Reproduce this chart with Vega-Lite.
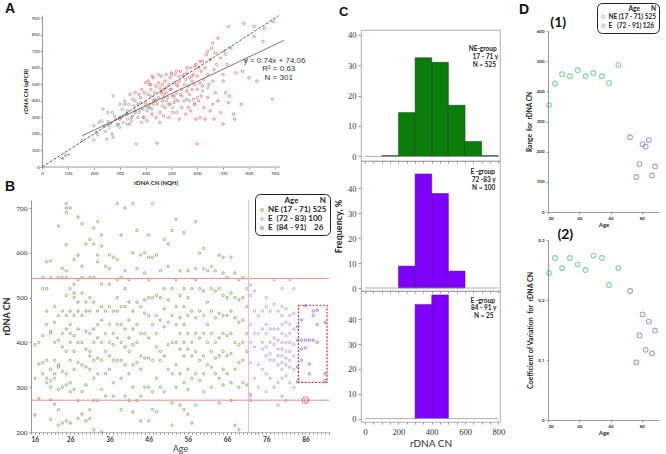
{
  "$schema": "https://vega.github.io/schema/vega-lite/v6.json",
  "padding": {"left": 2, "top": 2, "right": 0, "bottom": 0},
  "spacing": 3,
  "resolve": {"scale": {"color": "independent"}},
  "config": {
    "font": "Lato",
    "view": {"stroke": null},
    "axis": {"grid": false, "labelColor": "#333", "titleColor": "#222", "domainColor": "#999", "tickColor": "#999", "labelOverlap": false, "tickCount": 200, "format": "d"}
  },
  "datasets": {
    "a": [
      {"g":"g","x":75,"y":55},{"g":"g","x":90,"y":75},{"g":"g","x":155,"y":160},{"g":"g","x":200,"y":250},{"g":"g","x":200,"y":165},{"g":"g","x":210,"y":210},{"g":"g","x":215,"y":195},{"g":"g","x":220,"y":270},{"g":"g","x":230,"y":280},{"g":"g","x":235,"y":350},{"g":"g","x":240,"y":250},{"g":"g","x":245,"y":215},{"g":"g","x":250,"y":170},{"g":"g","x":255,"y":275},{"g":"g","x":260,"y":240},{"g":"g","x":265,"y":260},{"g":"g","x":270,"y":200},{"g":"g","x":272,"y":330},{"g":"g","x":275,"y":180},{"g":"g","x":275,"y":430},{"g":"g","x":280,"y":310},{"g":"g","x":285,"y":290},{"g":"g","x":290,"y":255},{"g":"g","x":295,"y":260},{"g":"g","x":300,"y":380},{"g":"g","x":300,"y":240},{"g":"g","x":305,"y":300},{"g":"g","x":310,"y":350},{"g":"g","x":315,"y":270},{"g":"g","x":320,"y":400},{"g":"g","x":325,"y":320},{"g":"g","x":330,"y":290},{"g":"g","x":335,"y":380},{"g":"g","x":340,"y":260},{"g":"g","x":345,"y":280},{"g":"g","x":350,"y":310},{"g":"g","x":355,"y":370},{"g":"g","x":360,"y":340},{"g":"g","x":365,"y":140},{"g":"g","x":370,"y":300},{"g":"g","x":375,"y":330},{"g":"g","x":380,"y":390},{"g":"g","x":385,"y":270},{"g":"g","x":390,"y":350},{"g":"g","x":395,"y":300},{"g":"g","x":400,"y":370},{"g":"g","x":405,"y":340},{"g":"g","x":410,"y":360},{"g":"g","x":415,"y":380},{"g":"g","x":420,"y":430},{"g":"g","x":425,"y":350},{"g":"g","x":430,"y":380},{"g":"g","x":440,"y":400},{"g":"g","x":445,"y":145},{"g":"g","x":450,"y":560},{"g":"g","x":455,"y":480},{"g":"g","x":460,"y":450},{"g":"g","x":465,"y":370},{"g":"g","x":470,"y":420},{"g":"g","x":480,"y":400},{"g":"g","x":490,"y":380},{"g":"g","x":495,"y":470},{"g":"g","x":500,"y":570},{"g":"g","x":505,"y":360},{"g":"g","x":510,"y":430},{"g":"g","x":515,"y":410},{"g":"g","x":520,"y":500},{"g":"g","x":530,"y":550},{"g":"g","x":540,"y":430},{"g":"g","x":550,"y":560},{"g":"g","x":560,"y":410},{"g":"g","x":570,"y":400},{"g":"g","x":580,"y":550},{"g":"g","x":590,"y":380},{"g":"g","x":600,"y":420},{"g":"g","x":620,"y":460},{"g":"g","x":640,"y":480},{"g":"g","x":660,"y":520},{"g":"g","x":700,"y":520},{"g":"g","x":710,"y":680},{"g":"g","x":330,"y":320},{"g":"g","x":360,"y":400},{"g":"g","x":255,"y":330},{"g":"g","x":300,"y":300},
      {"g":"r","x":300,"y":290},{"g":"r","x":320,"y":380},{"g":"r","x":330,"y":340},{"g":"r","x":340,"y":440},{"g":"r","x":350,"y":410},{"g":"r","x":360,"y":330},{"g":"r","x":370,"y":380},{"g":"r","x":380,"y":420},{"g":"r","x":385,"y":470},{"g":"r","x":390,"y":300},{"g":"r","x":395,"y":450},{"g":"r","x":400,"y":510},{"g":"r","x":400,"y":390},{"g":"r","x":405,"y":280},{"g":"r","x":410,"y":520},{"g":"r","x":410,"y":440},{"g":"r","x":415,"y":360},{"g":"r","x":420,"y":470},{"g":"r","x":420,"y":500},{"g":"r","x":425,"y":320},{"g":"r","x":430,"y":400},{"g":"r","x":430,"y":540},{"g":"r","x":435,"y":450},{"g":"r","x":440,"y":490},{"g":"r","x":440,"y":300},{"g":"r","x":445,"y":380},{"g":"r","x":450,"y":510},{"g":"r","x":450,"y":420},{"g":"r","x":455,"y":270},{"g":"r","x":455,"y":330},{"g":"r","x":460,"y":460},{"g":"r","x":460,"y":550},{"g":"r","x":465,"y":500},{"g":"r","x":465,"y":400},{"g":"r","x":470,"y":440},{"g":"r","x":470,"y":310},{"g":"r","x":475,"y":520},{"g":"r","x":475,"y":360},{"g":"r","x":480,"y":480},{"g":"r","x":480,"y":560},{"g":"r","x":485,"y":420},{"g":"r","x":490,"y":500},{"g":"r","x":490,"y":300},{"g":"r","x":495,"y":540},{"g":"r","x":495,"y":380},{"g":"r","x":500,"y":470},{"g":"r","x":500,"y":560},{"g":"r","x":505,"y":430},{"g":"r","x":505,"y":330},{"g":"r","x":510,"y":510},{"g":"r","x":510,"y":390},{"g":"r","x":515,"y":560},{"g":"r","x":520,"y":450},{"g":"r","x":520,"y":330},{"g":"r","x":525,"y":490},{"g":"r","x":525,"y":400},{"g":"r","x":530,"y":520},{"g":"r","x":530,"y":290},{"g":"r","x":535,"y":440},{"g":"r","x":535,"y":580},{"g":"r","x":540,"y":470},{"g":"r","x":540,"y":360},{"g":"r","x":545,"y":550},{"g":"r","x":550,"y":500},{"g":"r","x":550,"y":400},{"g":"r","x":555,"y":530},{"g":"r","x":555,"y":320},{"g":"r","x":560,"y":570},{"g":"r","x":560,"y":460},{"g":"r","x":565,"y":490},{"g":"r","x":565,"y":360},{"g":"r","x":570,"y":540},{"g":"r","x":570,"y":440},{"g":"r","x":575,"y":600},{"g":"r","x":575,"y":340},{"g":"r","x":580,"y":520},{"g":"r","x":580,"y":470},{"g":"r","x":585,"y":560},{"g":"r","x":585,"y":410},{"g":"r","x":590,"y":500},{"g":"r","x":590,"y":380},{"g":"r","x":595,"y":620},{"g":"r","x":595,"y":290},{"g":"r","x":600,"y":140},{"g":"r","x":600,"y":470},{"g":"r","x":600,"y":550},{"g":"r","x":605,"y":600},{"g":"r","x":605,"y":400},{"g":"r","x":610,"y":510},{"g":"r","x":610,"y":300},{"g":"r","x":615,"y":580},{"g":"r","x":615,"y":430},{"g":"r","x":620,"y":640},{"g":"r","x":620,"y":490},{"g":"r","x":625,"y":530},{"g":"r","x":625,"y":360},{"g":"r","x":630,"y":600},{"g":"r","x":630,"y":290},{"g":"r","x":635,"y":680},{"g":"r","x":640,"y":560},{"g":"r","x":640,"y":420},{"g":"r","x":645,"y":500},{"g":"r","x":650,"y":650},{"g":"r","x":650,"y":340},{"g":"r","x":655,"y":720},{"g":"r","x":660,"y":750},{"g":"r","x":660,"y":380},{"g":"r","x":665,"y":590},{"g":"r","x":665,"y":290},{"g":"r","x":670,"y":690},{"g":"r","x":670,"y":450},{"g":"r","x":675,"y":620},{"g":"r","x":680,"y":780},{"g":"r","x":680,"y":400},{"g":"r","x":690,"y":660},{"g":"r","x":690,"y":330},{"g":"r","x":700,"y":560},{"g":"r","x":700,"y":260},{"g":"r","x":705,"y":700},{"g":"r","x":710,"y":450},{"g":"r","x":715,"y":620},{"g":"r","x":720,"y":850},{"g":"r","x":720,"y":390},{"g":"r","x":725,"y":430},{"g":"r","x":730,"y":720},{"g":"r","x":740,"y":320},{"g":"r","x":745,"y":290},{"g":"r","x":750,"y":570},{"g":"r","x":770,"y":380},{"g":"r","x":775,"y":580},{"g":"r","x":780,"y":870},{"g":"r","x":790,"y":650},{"g":"r","x":800,"y":540},{"g":"r","x":820,"y":790},{"g":"r","x":820,"y":850},{"g":"r","x":830,"y":520},{"g":"r","x":855,"y":760},{"g":"r","x":860,"y":840},{"g":"r","x":895,"y":880},{"g":"r","x":890,"y":410},{"g":"r","x":330,"y":260},{"g":"r","x":360,"y":450},{"g":"r","x":375,"y":440},{"g":"r","x":345,"y":300},{"g":"r","x":425,"y":550},{"g":"r","x":590,"y":610},{"g":"r","x":610,"y":640},{"g":"r","x":640,"y":700},{"g":"r","x":560,"y":600},{"g":"r","x":520,"y":580},{"g":"r","x":480,"y":450},{"g":"r","x":470,"y":470},{"g":"r","x":380,"y":350},{"g":"r","x":415,"y":500},{"g":"r","x":435,"y":410}
    ],
    "b": [
      {"g":"NE","a":17,"v":395},{"g":"NE","a":17,"v":238},{"g":"NE","a":17,"v":320},
      {"g":"NE","a":18,"v":400},{"g":"NE","a":18,"v":275},{"g":"NE","a":18,"v":352},
      {"g":"NE","a":19,"v":330},{"g":"NE","a":19,"v":355},{"g":"NE","a":19,"v":415},{"g":"NE","a":19,"v":545},{"g":"NE","a":19,"v":520},
      {"g":"NE","a":20,"v":580},{"g":"NE","a":20,"v":470},{"g":"NE","a":20,"v":440},{"g":"NE","a":20,"v":320},{"g":"NE","a":20,"v":310},{"g":"NE","a":20,"v":360},{"g":"NE","a":20,"v":520},
      {"g":"NE","a":21,"v":582},{"g":"NE","a":21,"v":420},{"g":"NE","a":21,"v":425},{"g":"NE","a":21,"v":340},{"g":"NE","a":21,"v":300},{"g":"NE","a":21,"v":315},{"g":"NE","a":21,"v":228},{"g":"NE","a":21,"v":272},{"g":"NE","a":21,"v":545},
      {"g":"NE","a":22,"v":445},{"g":"NE","a":22,"v":480},{"g":"NE","a":22,"v":330},{"g":"NE","a":22,"v":262},{"g":"NE","a":22,"v":320},{"g":"NE","a":22,"v":400},{"g":"NE","a":22,"v":360},
      {"g":"NE","a":23,"v":460},{"g":"NE","a":23,"v":345},{"g":"NE","a":23,"v":295},{"g":"NE","a":23,"v":405},{"g":"NE","a":23,"v":215},{"g":"NE","a":23,"v":250},{"g":"NE","a":23,"v":660},{"g":"NE","a":23,"v":350},{"g":"NE","a":23,"v":545},
      {"g":"NE","a":24,"v":470},{"g":"NE","a":24,"v":390},{"g":"NE","a":24,"v":565},{"g":"NE","a":24,"v":545},{"g":"NE","a":24,"v":335},{"g":"NE","a":24,"v":420},{"g":"NE","a":24,"v":300},{"g":"NE","a":24,"v":220},
      {"g":"NE","a":25,"v":700},{"g":"NE","a":25,"v":710},{"g":"NE","a":25,"v":690},{"g":"NE","a":25,"v":618},{"g":"NE","a":25,"v":545},{"g":"NE","a":25,"v":505},{"g":"NE","a":25,"v":460},{"g":"NE","a":25,"v":430},{"g":"NE","a":25,"v":380},{"g":"NE","a":25,"v":330},{"g":"NE","a":25,"v":305},{"g":"NE","a":25,"v":225},{"g":"NE","a":25,"v":560},
      {"g":"NE","a":26,"v":700},{"g":"NE","a":26,"v":470},{"g":"NE","a":26,"v":440},{"g":"NE","a":26,"v":420},{"g":"NE","a":26,"v":400},{"g":"NE","a":26,"v":360},{"g":"NE","a":26,"v":310},{"g":"NE","a":26,"v":290},{"g":"NE","a":26,"v":220},{"g":"NE","a":26,"v":520},
      {"g":"NE","a":27,"v":585},{"g":"NE","a":27,"v":530},{"g":"NE","a":27,"v":500},{"g":"NE","a":27,"v":460},{"g":"NE","a":27,"v":415},{"g":"NE","a":27,"v":380},{"g":"NE","a":27,"v":340},{"g":"NE","a":27,"v":295},{"g":"NE","a":27,"v":510},
      {"g":"NE","a":28,"v":680},{"g":"NE","a":28,"v":595},{"g":"NE","a":28,"v":540},{"g":"NE","a":28,"v":490},{"g":"NE","a":28,"v":470},{"g":"NE","a":28,"v":430},{"g":"NE","a":28,"v":400},{"g":"NE","a":28,"v":355},{"g":"NE","a":28,"v":230},{"g":"NE","a":28,"v":270},
      {"g":"NE","a":29,"v":665},{"g":"NE","a":29,"v":570},{"g":"NE","a":29,"v":545},{"g":"NE","a":29,"v":510},{"g":"NE","a":29,"v":460},{"g":"NE","a":29,"v":400},{"g":"NE","a":29,"v":350},{"g":"NE","a":29,"v":290},{"g":"NE","a":29,"v":240},
      {"g":"NE","a":30,"v":490},{"g":"NE","a":30,"v":470},{"g":"NE","a":30,"v":425},{"g":"NE","a":30,"v":385},{"g":"NE","a":30,"v":345},{"g":"NE","a":30,"v":305},{"g":"NE","a":30,"v":225},{"g":"NE","a":30,"v":620},
      {"g":"NE","a":31,"v":630},{"g":"NE","a":31,"v":545},{"g":"NE","a":31,"v":500},{"g":"NE","a":31,"v":470},{"g":"NE","a":31,"v":420},{"g":"NE","a":31,"v":380},{"g":"NE","a":31,"v":370},{"g":"NE","a":31,"v":340},{"g":"NE","a":31,"v":250},{"g":"NE","a":31,"v":230},
      {"g":"NE","a":32,"v":655},{"g":"NE","a":32,"v":620},{"g":"NE","a":32,"v":545},{"g":"NE","a":32,"v":490},{"g":"NE","a":32,"v":430},{"g":"NE","a":32,"v":400},{"g":"NE","a":32,"v":360},{"g":"NE","a":32,"v":320},{"g":"NE","a":32,"v":270},{"g":"NE","a":32,"v":205},
      {"g":"NE","a":33,"v":670},{"g":"NE","a":33,"v":595},{"g":"NE","a":33,"v":580},{"g":"NE","a":33,"v":470},{"g":"NE","a":33,"v":440},{"g":"NE","a":33,"v":410},{"g":"NE","a":33,"v":365},{"g":"NE","a":33,"v":330},{"g":"NE","a":33,"v":270},
      {"g":"NE","a":34,"v":640},{"g":"NE","a":34,"v":615},{"g":"NE","a":34,"v":530},{"g":"NE","a":34,"v":480},{"g":"NE","a":34,"v":450},{"g":"NE","a":34,"v":400},{"g":"NE","a":34,"v":360},{"g":"NE","a":34,"v":295},{"g":"NE","a":34,"v":200},
      {"g":"NE","a":35,"v":470},{"g":"NE","a":35,"v":420},{"g":"NE","a":35,"v":380},{"g":"NE","a":35,"v":330},{"g":"NE","a":35,"v":280},{"g":"NE","a":35,"v":570},
      {"g":"NE","a":36,"v":595},{"g":"NE","a":36,"v":565},{"g":"NE","a":36,"v":530},{"g":"NE","a":36,"v":480},{"g":"NE","a":36,"v":440},{"g":"NE","a":36,"v":400},{"g":"NE","a":36,"v":370},{"g":"NE","a":36,"v":340},
      {"g":"NE","a":37,"v":590},{"g":"NE","a":37,"v":470},{"g":"NE","a":37,"v":420},{"g":"NE","a":37,"v":395},{"g":"NE","a":37,"v":360},{"g":"NE","a":37,"v":310},{"g":"NE","a":37,"v":280},
      {"g":"NE","a":38,"v":710},{"g":"NE","a":38,"v":585},{"g":"NE","a":38,"v":540},{"g":"NE","a":38,"v":500},{"g":"NE","a":38,"v":470},{"g":"NE","a":38,"v":440},{"g":"NE","a":38,"v":410},{"g":"NE","a":38,"v":360},
      {"g":"NE","a":39,"v":640},{"g":"NE","a":39,"v":545},{"g":"NE","a":39,"v":480},{"g":"NE","a":39,"v":440},{"g":"NE","a":39,"v":400},{"g":"NE","a":39,"v":360},{"g":"NE","a":39,"v":320},{"g":"NE","a":39,"v":250},
      {"g":"NE","a":40,"v":700},{"g":"NE","a":40,"v":560},{"g":"NE","a":40,"v":520},{"g":"NE","a":40,"v":480},{"g":"NE","a":40,"v":430},{"g":"NE","a":40,"v":390},{"g":"NE","a":40,"v":350},{"g":"NE","a":40,"v":280},
      {"g":"NE","a":41,"v":540},{"g":"NE","a":41,"v":490},{"g":"NE","a":41,"v":450},{"g":"NE","a":41,"v":410},{"g":"NE","a":41,"v":380},{"g":"NE","a":41,"v":330},{"g":"NE","a":41,"v":270},
      {"g":"NE","a":42,"v":710},{"g":"NE","a":42,"v":600},{"g":"NE","a":42,"v":470},{"g":"NE","a":42,"v":430},{"g":"NE","a":42,"v":395},{"g":"NE","a":42,"v":350},{"g":"NE","a":42,"v":300},{"g":"NE","a":42,"v":245},
      {"g":"NE","a":43,"v":650},{"g":"NE","a":43,"v":565},{"g":"NE","a":43,"v":490},{"g":"NE","a":43,"v":440},{"g":"NE","a":43,"v":400},{"g":"NE","a":43,"v":355},{"g":"NE","a":43,"v":270},
      {"g":"NE","a":44,"v":595},{"g":"NE","a":44,"v":480},{"g":"NE","a":44,"v":420},{"g":"NE","a":44,"v":370},{"g":"NE","a":44,"v":340},{"g":"NE","a":44,"v":280},{"g":"NE","a":44,"v":225},
      {"g":"NE","a":45,"v":600},{"g":"NE","a":45,"v":555},{"g":"NE","a":45,"v":495},{"g":"NE","a":45,"v":465},{"g":"NE","a":45,"v":420},{"g":"NE","a":45,"v":365},{"g":"NE","a":45,"v":300},
      {"g":"NE","a":46,"v":640},{"g":"NE","a":46,"v":590},{"g":"NE","a":46,"v":540},{"g":"NE","a":46,"v":500},{"g":"NE","a":46,"v":460},{"g":"NE","a":46,"v":410},{"g":"NE","a":46,"v":365},{"g":"NE","a":46,"v":300},{"g":"NE","a":46,"v":225},
      {"g":"NE","a":47,"v":710},{"g":"NE","a":47,"v":590},{"g":"NE","a":47,"v":500},{"g":"NE","a":47,"v":440},{"g":"NE","a":47,"v":360},{"g":"NE","a":47,"v":290},{"g":"NE","a":47,"v":250},
      {"g":"NE","a":48,"v":595},{"g":"NE","a":48,"v":505},{"g":"NE","a":48,"v":460},{"g":"NE","a":48,"v":420},{"g":"NE","a":48,"v":390},{"g":"NE","a":48,"v":320},{"g":"NE","a":48,"v":245},
      {"g":"NE","a":49,"v":560},{"g":"NE","a":49,"v":500},{"g":"NE","a":49,"v":450},{"g":"NE","a":49,"v":380},{"g":"NE","a":49,"v":360},{"g":"NE","a":49,"v":300},
      {"g":"NE","a":50,"v":630},{"g":"NE","a":50,"v":520},{"g":"NE","a":50,"v":475},{"g":"NE","a":50,"v":435},{"g":"NE","a":50,"v":370},{"g":"NE","a":50,"v":290},
      {"g":"NE","a":51,"v":620},{"g":"NE","a":51,"v":570},{"g":"NE","a":51,"v":495},{"g":"NE","a":51,"v":445},{"g":"NE","a":51,"v":395},{"g":"NE","a":51,"v":340},
      {"g":"NE","a":52,"v":650},{"g":"NE","a":52,"v":520},{"g":"NE","a":52,"v":460},{"g":"NE","a":52,"v":400},{"g":"NE","a":52,"v":330},{"g":"NE","a":52,"v":265},{"g":"NE","a":52,"v":215},
      {"g":"NE","a":53,"v":675},{"g":"NE","a":53,"v":540},{"g":"NE","a":53,"v":480},{"g":"NE","a":53,"v":440},{"g":"NE","a":53,"v":400},{"g":"NE","a":53,"v":350},{"g":"NE","a":53,"v":300},
      {"g":"NE","a":54,"v":560},{"g":"NE","a":54,"v":505},{"g":"NE","a":54,"v":455},{"g":"NE","a":54,"v":420},{"g":"NE","a":54,"v":385},{"g":"NE","a":54,"v":330},{"g":"NE","a":54,"v":260},
      {"g":"NE","a":55,"v":645},{"g":"NE","a":55,"v":520},{"g":"NE","a":55,"v":480},{"g":"NE","a":55,"v":440},{"g":"NE","a":55,"v":400},{"g":"NE","a":55,"v":370},{"g":"NE","a":55,"v":310},{"g":"NE","a":55,"v":250},
      {"g":"NE","a":56,"v":560},{"g":"NE","a":56,"v":500},{"g":"NE","a":56,"v":460},{"g":"NE","a":56,"v":420},{"g":"NE","a":56,"v":385},{"g":"NE","a":56,"v":340},{"g":"NE","a":56,"v":295},{"g":"NE","a":56,"v":240},
      {"g":"NE","a":57,"v":520},{"g":"NE","a":57,"v":470},{"g":"NE","a":57,"v":400},{"g":"NE","a":57,"v":370},{"g":"NE","a":57,"v":320},{"g":"NE","a":57,"v":220},
      {"g":"NE","a":58,"v":670},{"g":"NE","a":58,"v":565},{"g":"NE","a":58,"v":540},{"g":"NE","a":58,"v":455},{"g":"NE","a":58,"v":420},{"g":"NE","a":58,"v":380},{"g":"NE","a":58,"v":330},{"g":"NE","a":58,"v":260},
      {"g":"NE","a":59,"v":600},{"g":"NE","a":59,"v":520},{"g":"NE","a":59,"v":470},{"g":"NE","a":59,"v":410},{"g":"NE","a":59,"v":360},{"g":"NE","a":59,"v":315},
      {"g":"NE","a":60,"v":610},{"g":"NE","a":60,"v":565},{"g":"NE","a":60,"v":515},{"g":"NE","a":60,"v":460},{"g":"NE","a":60,"v":420},{"g":"NE","a":60,"v":370},{"g":"NE","a":60,"v":330},{"g":"NE","a":60,"v":290},
      {"g":"NE","a":61,"v":560},{"g":"NE","a":61,"v":490},{"g":"NE","a":61,"v":440},{"g":"NE","a":61,"v":400},{"g":"NE","a":61,"v":350},
      {"g":"NE","a":62,"v":570},{"g":"NE","a":62,"v":520},{"g":"NE","a":62,"v":470},{"g":"NE","a":62,"v":420},{"g":"NE","a":62,"v":380},{"g":"NE","a":62,"v":345},{"g":"NE","a":62,"v":300},
      {"g":"NE","a":63,"v":560},{"g":"NE","a":63,"v":515},{"g":"NE","a":63,"v":455},{"g":"NE","a":63,"v":400},{"g":"NE","a":63,"v":365},{"g":"NE","a":63,"v":330},
      {"g":"NE","a":64,"v":595},{"g":"NE","a":64,"v":520},{"g":"NE","a":64,"v":465},{"g":"NE","a":64,"v":410},{"g":"NE","a":64,"v":370},{"g":"NE","a":64,"v":320},{"g":"NE","a":64,"v":265},
      {"g":"NE","a":65,"v":590},{"g":"NE","a":65,"v":555},{"g":"NE","a":65,"v":505},{"g":"NE","a":65,"v":460},{"g":"NE","a":65,"v":420},{"g":"NE","a":65,"v":380},{"g":"NE","a":65,"v":340},{"g":"NE","a":65,"v":305},
      {"g":"NE","a":66,"v":545},{"g":"NE","a":66,"v":500},{"g":"NE","a":66,"v":460},{"g":"NE","a":66,"v":415},{"g":"NE","a":66,"v":370},{"g":"NE","a":66,"v":330},
      {"g":"NE","a":67,"v":590},{"g":"NE","a":67,"v":510},{"g":"NE","a":67,"v":470},{"g":"NE","a":67,"v":420},{"g":"NE","a":67,"v":375},{"g":"NE","a":67,"v":310},{"g":"NE","a":67,"v":270},
      {"g":"NE","a":68,"v":555},{"g":"NE","a":68,"v":500},{"g":"NE","a":68,"v":455},{"g":"NE","a":68,"v":400},{"g":"NE","a":68,"v":340},{"g":"NE","a":68,"v":215},
      {"g":"NE","a":69,"v":540},{"g":"NE","a":69,"v":495},{"g":"NE","a":69,"v":445},{"g":"NE","a":69,"v":395},{"g":"NE","a":69,"v":355},{"g":"NE","a":69,"v":300},{"g":"NE","a":69,"v":205},
      {"g":"NE","a":70,"v":545},{"g":"NE","a":70,"v":500},{"g":"NE","a":70,"v":450},{"g":"NE","a":70,"v":400},{"g":"NE","a":70,"v":360},{"g":"NE","a":70,"v":310},
      {"g":"NE","a":71,"v":520},{"g":"NE","a":71,"v":480},{"g":"NE","a":71,"v":420},{"g":"NE","a":71,"v":380},{"g":"NE","a":71,"v":305},
      {"g":"E1","a":72,"v":528},{"g":"E1","a":72,"v":505},{"g":"E1","a":72,"v":440},{"g":"E1","a":72,"v":400},{"g":"E1","a":72,"v":355},{"g":"E1","a":72,"v":285},{"g":"E1","a":72,"v":280},{"g":"E1","a":72,"v":270},
      {"g":"E1","a":73,"v":515},{"g":"E1","a":73,"v":470},{"g":"E1","a":73,"v":420},{"g":"E1","a":73,"v":390},{"g":"E1","a":73,"v":320},
      {"g":"E1","a":74,"v":460},{"g":"E1","a":74,"v":420},{"g":"E1","a":74,"v":350},{"g":"E1","a":74,"v":300},
      {"g":"E1","a":75,"v":470},{"g":"E1","a":75,"v":430},{"g":"E1","a":75,"v":400},{"g":"E1","a":75,"v":385},{"g":"E1","a":75,"v":340},
      {"g":"E1","a":76,"v":500},{"g":"E1","a":76,"v":480},{"g":"E1","a":76,"v":440},{"g":"E1","a":76,"v":420},{"g":"E1","a":76,"v":390},{"g":"E1","a":76,"v":370},{"g":"E1","a":76,"v":330},{"g":"E1","a":76,"v":290},
      {"g":"E1","a":77,"v":470},{"g":"E1","a":77,"v":430},{"g":"E1","a":77,"v":400},{"g":"E1","a":77,"v":375},{"g":"E1","a":77,"v":360},{"g":"E1","a":77,"v":320},
      {"g":"E1","a":78,"v":540},{"g":"E1","a":78,"v":485},{"g":"E1","a":78,"v":430},{"g":"E1","a":78,"v":410},{"g":"E1","a":78,"v":395},{"g":"E1","a":78,"v":360},{"g":"E1","a":78,"v":300},
      {"g":"E1","a":79,"v":470},{"g":"E1","a":79,"v":430},{"g":"E1","a":79,"v":405},{"g":"E1","a":79,"v":385},{"g":"E1","a":79,"v":370},{"g":"E1","a":79,"v":350},{"g":"E1","a":79,"v":310},{"g":"E1","a":79,"v":260},
      {"g":"E1","a":80,"v":520},{"g":"E1","a":80,"v":480},{"g":"E1","a":80,"v":460},{"g":"E1","a":80,"v":440},{"g":"E1","a":80,"v":420},{"g":"E1","a":80,"v":400},{"g":"E1","a":80,"v":385},{"g":"E1","a":80,"v":370},{"g":"E1","a":80,"v":355},{"g":"E1","a":80,"v":340},{"g":"E1","a":80,"v":320},{"g":"E1","a":80,"v":280},
      {"g":"E1","a":81,"v":475},{"g":"E1","a":81,"v":445},{"g":"E1","a":81,"v":415},{"g":"E1","a":81,"v":400},{"g":"E1","a":81,"v":380},{"g":"E1","a":81,"v":365},{"g":"E1","a":81,"v":350},{"g":"E1","a":81,"v":325},{"g":"E1","a":81,"v":270},
      {"g":"E1","a":82,"v":540},{"g":"E1","a":82,"v":460},{"g":"E1","a":82,"v":440},{"g":"E1","a":82,"v":420},{"g":"E1","a":82,"v":400},{"g":"E1","a":82,"v":380},{"g":"E1","a":82,"v":360},{"g":"E1","a":82,"v":345},{"g":"E1","a":82,"v":310},
      {"g":"E1","a":83,"v":520},{"g":"E1","a":83,"v":465},{"g":"E1","a":83,"v":430},{"g":"E1","a":83,"v":395},{"g":"E1","a":83,"v":370},{"g":"E1","a":83,"v":340},{"g":"E1","a":83,"v":300},
      {"g":"E2","a":84,"v":435},{"g":"E2","a":84,"v":405},{"g":"E2","a":84,"v":345},{"g":"E2","a":84,"v":312},
      {"g":"E2","a":85,"v":450},{"g":"E2","a":85,"v":385},{"g":"E2","a":85,"v":360},{"g":"E2","a":85,"v":405},
      {"g":"E2","a":86,"v":482},{"g":"E2","a":86,"v":405},{"g":"E2","a":86,"v":388},{"g":"E2","a":86,"v":270},
      {"g":"E2","a":87,"v":405},{"g":"E2","a":87,"v":352},{"g":"E2","a":87,"v":330},
      {"g":"E2","a":88,"v":470},{"g":"E2","a":88,"v":460},{"g":"E2","a":88,"v":405},
      {"g":"E2","a":89,"v":472},{"g":"E2","a":89,"v":440},{"g":"E2","a":89,"v":400},
      {"g":"E2","a":91,"v":445},{"g":"E2","a":91,"v":330},{"g":"E2","a":91,"v":315}
    ],
    "c": [
      {"p":1,"lo":100,"hi":200,"f":0.3},{"p":1,"lo":200,"hi":300,"f":14.4},{"p":1,"lo":300,"hi":400,"f":32.4},{"p":1,"lo":400,"hi":500,"f":30.9},{"p":1,"lo":500,"hi":600,"f":16.8},{"p":1,"lo":600,"hi":700,"f":4.9},{"p":1,"lo":700,"hi":800,"f":0.3},
      {"p":2,"lo":200,"hi":300,"f":8.8},{"p":2,"lo":300,"hi":400,"f":45.8},{"p":2,"lo":400,"hi":500,"f":37.9},{"p":2,"lo":500,"hi":600,"f":6.8},
      {"p":3,"lo":300,"hi":400,"f":46.0},{"p":3,"lo":400,"hi":500,"f":49.8}
    ],
    "ct": [
      {"p":1,"t":"NE-group","x":706,"y":35.2},{"p":1,"t":"17 - 71 y","x":722,"y":32.5},{"p":1,"t":"N = 525","x":716,"y":29.9},
      {"p":2,"t":"E -group","x":706,"y":46.7},{"p":2,"t":"72 -83 y","x":712,"y":43.4},{"p":2,"t":"N = 100","x":712,"y":40.2},
      {"p":3,"t":"E -group","x":706,"y":47.3},{"p":3,"t":"84 - 91 y","x":712,"y":44.4},{"p":3,"t":"N = 25","x":712,"y":41.4}
    ],
    "d": [
      {"g":"NE","a":20.6,"r":354,"c":0.245},{"g":"NE","a":24.5,"r":426,"c":0.270},{"g":"NE","a":29,"r":457,"c":0.253},{"g":"NE","a":34,"r":450,"c":0.270},{"g":"NE","a":39,"r":470,"c":0.259},{"g":"NE","a":44,"r":450,"c":0.250},{"g":"NE","a":49,"r":461,"c":0.274},{"g":"NE","a":54.5,"r":450,"c":0.270},{"g":"NE","a":59,"r":428,"c":0.225},{"g":"NE","a":65,"r":488,"c":0.253},
      {"g":"E","a":72.5,"r":248,"c":0.215},{"g":"E","a":76.5,"r":116,"c":0.096},{"g":"E","a":78.5,"r":159,"c":0.141},{"g":"E","a":80.5,"r":225,"c":0.176},{"g":"E","a":82.5,"r":217,"c":0.117},{"g":"E","a":84.5,"r":238,"c":0.164},{"g":"E","a":86.5,"r":121,"c":0.111},{"g":"E","a":88.5,"r":151,"c":0.149}
    ]
  },
  "hconcat": [
    {
      "resolve": {"scale": {"color": "independent"}},
      "vconcat": [
        {
          "width": 249, "height": 152,
          "title": {"text": "A", "anchor": "start", "frame": "group", "fontSize": 14, "fontWeight": "bold", "font": "Liberation Sans", "color": "#111", "dx": -26, "offset": -2},
          "layer": [
            {
              "data": {"values": [{}]},
              "mark": {"type": "rule", "color": "#999", "strokeWidth": 1},
              "encoding": {"x": {"datum": 0, "type": "quantitative"}, "x2": {"datum": 920}, "y": {"datum": 0, "type": "quantitative"}}
            },
            {
              "data": {"name": "a"},
              "mark": {"type": "point", "filled": false, "size": 6, "strokeWidth": 0.9},
              "encoding": {
                "x": {"field": "x", "type": "quantitative", "scale": {"domain": [-43, 920], "nice": false, "zero": false},
                      "axis": {"values": [0,100,200,300,400,500,600,700,800,900], "format": "d", "tickCount": 200, "labelOverlap": false, "domain": false, "labelFontSize": 4.5, "tickSize": 2, "labelPadding": 1, "title": "rDNA CN (NQH)", "titleFontSize": 6, "titleFontWeight": "bold", "titlePadding": 5}},
                "y": {"field": "y", "type": "quantitative", "scale": {"domain": [0, 920], "nice": false, "zero": false},
                      "axis": {"values": [0,100,200,300,400,500,600,700,800,900], "format": "d", "tickCount": 200, "labelOverlap": false, "offset": -11, "labelFontSize": 4.5, "tickSize": 2, "labelPadding": 1, "title": "rDNA CN (qPCR)", "titleFontSize": 6, "titleFontWeight": "bold", "titlePadding": 3}},
                "color": {"field": "g", "type": "nominal", "scale": {"domain": ["g", "r"], "range": ["#7c8a7c", "#e5484d"]}, "legend": null}
              }
            },
            {
              "data": {"values": [{"x": 0, "y": 0}, {"x": 915, "y": 915}]},
              "mark": {"type": "line", "color": "#333", "strokeWidth": 0.8, "strokeDash": [3, 1.5]},
              "encoding": {"x": {"field": "x", "type": "quantitative"}, "y": {"field": "y", "type": "quantitative"}}
            },
            {
              "data": {"values": [{"x": 155, "y": 188.8}, {"x": 935, "y": 766}]},
              "mark": {"type": "line", "color": "#666", "strokeWidth": 0.9},
              "encoding": {"x": {"field": "x", "type": "quantitative"}, "y": {"field": "y", "type": "quantitative"}}
            },
            {
              "data": {"values": [{"x": 899, "y": 641, "t": "y = 0.74x + 74.06"}, {"x": 915, "y": 591, "t": "R² = 0.63"}, {"x": 915, "y": 540, "t": "N = 301"}]},
              "mark": {"type": "text", "fontSize": 8, "color": "#333", "font": "Liberation Sans"},
              "encoding": {"x": {"field": "x", "type": "quantitative"}, "y": {"field": "y", "type": "quantitative"}, "text": {"field": "t"}}
            },
            {
              "data": {"values": [{"x": 92, "y": 62, "t": "y = x"}]},
              "mark": {"type": "text", "fontSize": 4.5, "color": "#333", "angle": 327},
              "encoding": {"x": {"field": "x", "type": "quantitative"}, "y": {"field": "y", "type": "quantitative"}, "text": {"field": "t"}}
            }
          ]
        },
        {
          "width": 298, "height": 232,
          "title": {"text": "B", "anchor": "start", "frame": "group", "fontSize": 14, "fontWeight": "bold", "font": "Liberation Sans", "color": "#111", "dx": -26, "offset": 0},
          "layer": [
            {
              "data": {"name": "b"},
              "mark": {"type": "point", "filled": false, "size": 6, "strokeWidth": 1},
              "encoding": {
                "x": {"field": "a", "type": "quantitative", "scale": {"domain": [16, 92], "nice": false, "zero": false},
                      "axis": {"values": [16,17,18,19,20,21,22,23,24,25,26,27,28,29,30,31,32,33,34,35,36,37,38,39,40,41,42,43,44,45,46,47,48,49,50,51,52,53,54,55,56,57,58,59,60,61,62,63,64,65,66,67,68,69,70,71,72,73,74,75,76,77,78,79,80,81,82,83,84,85,86,87,88,89,90,91,92], "tickCount": 200, "format": "d",
                               "labelExpr": "(datum.value - 16) % 10 == 0 && datum.value < 90 ? datum.label : ''", "labelOverlap": false, "labelFontSize": 6.5, "labelFontWeight": "bold", "tickSize": 2, "tickColor": "#888", "domainColor": "#bbb", "labelPadding": 2, "title": "Age", "titleFontSize": 9, "titleFontWeight": "normal", "titleColor": "#444", "titlePadding": 2}},
                "y": {"field": "v", "type": "quantitative", "scale": {"domain": [200, 718], "nice": false, "zero": false},
                      "axis": {"values": [200,300,400,500,600,700], "format": "d", "tickCount": 200, "labelOverlap": false, "labelFontSize": 6.5, "tickSize": 2, "labelPadding": 2, "title": "rDNA CN", "titleFontSize": 9, "titleFontWeight": "bold", "titlePadding": 4}},
                "color": {"field": "g", "type": "nominal", "scale": {"domain": ["NE", "E1", "E2"], "range": ["#6b9744", "#a88bd8", "#7a4cc2"]},
                  "legend": {"orient": "none", "legendX": 224, "legendY": -6, "direction": "vertical",
                    "title": "Age\u00a0\u00a0\u00a0\u00a0\u00a0\u00a0\u00a0\u00a0\u00a0\u00a0\u00a0N", "titleAnchor": "end",
                    "titleFontSize": 8, "titleFontWeight": "bold", "titleColor": "#222", "titlePadding": 1, "titleFont": "Lato",
                    "labelFontSize": 8, "labelFontWeight": "bold", "labelColor": "#222", "labelFont": "Lato", "labelOffset": 2,
                    "labelExpr": "datum.label == 'NE' ? 'NE (17 - 71)\u00a0525' : datum.label == 'E1' ? 'E\u00a0\u00a0(72 - 83)\u00a0100' : 'E\u00a0\u00a0(84 - 91)\u00a0\u00a0\u00a0\u00a026'",
                    "symbolSize": 8, "symbolStrokeWidth": 1, "rowPadding": 1, "padding": 3, "strokeColor": "#222", "cornerRadius": 5, "fillColor": "white"}}
              }
            },
            {
              "data": {"values": [{"v": 543}, {"v": 271}]},
              "mark": {"type": "rule", "color": "#f08a8a", "strokeWidth": 1},
              "encoding": {"y": {"field": "v", "type": "quantitative"}}
            },
            {
              "data": {"values": [{"a": 71.5}]},
              "mark": {"type": "rule", "color": "#f6b5c2", "strokeWidth": 1},
              "encoding": {"x": {"field": "a", "type": "quantitative"}}
            },
            {
              "data": {"values": [{"a1": 84.2, "a2": 91.5, "v1": 311, "v2": 483}]},
              "mark": {"type": "rect", "filled": false, "stroke": "#e02b2b", "strokeWidth": 1.2, "strokeDash": [2, 1.5], "fill": null},
              "encoding": {"x": {"field": "a1", "type": "quantitative"}, "x2": {"field": "a2"}, "y": {"field": "v1", "type": "quantitative"}, "y2": {"field": "v2"}}
            },
            {
              "data": {"values": [{"a": 86, "v": 271}]},
              "mark": {"type": "point", "filled": false, "size": 45, "color": "#e02b2b", "strokeWidth": 1},
              "encoding": {"x": {"field": "a", "type": "quantitative"}, "y": {"field": "v", "type": "quantitative"}}
            }
          ]
        }
      ],
      "spacing": 33,
      "bounds": "flush"
    },
    {
      "vconcat": [
        {
          "width": 155, "height": 15,
          "title": {"text": "C", "anchor": "start", "frame": "group", "fontSize": 13, "fontWeight": "bold", "font": "Liberation Sans", "color": "#111", "dx": -22, "offset": -4},
          "data": {"values": [{}]},
          "mark": {"type": "text"},
          "encoding": {"text": {"value": ""}}
        },
        {
          "width": 139, "height": 131,
          "view": {"stroke": "#9a9a9a", "strokeWidth": 0.8},
          "layer": [
            {
              "data": {"name": "c"}, "transform": [{"filter": "datum.p == 1"}],
              "mark": {"type": "rect", "color": "#0b7d0b", "stroke": "#1a3a1a", "strokeWidth": 0.5},
              "encoding": {
                "x": {"field": "lo", "type": "quantitative", "scale": {"domain": [-25, 810], "nice": false, "zero": false},
                      "axis": {"values": [0,50,100,150,200,250,300,350,400,450,500,550,600,650,700,750,800], "tickCount": 200, "labels": false, "domain": false, "tickSize": 2, "title": null}},
                "x2": {"field": "hi"},
                "y": {"field": "f", "type": "quantitative", "scale": {"domain": [-1.5, 41.5], "nice": false, "zero": false},
                      "axis": {"values": [0,10,20,30,40], "format": "d", "tickCount": 200, "labelOverlap": false, "domain": false, "labelFont": "Liberation Serif", "labelFontSize": 8.5, "tickSize": 3, "labelPadding": 2, "title": null}},
                "y2": {"datum": 0}
              }
            },
            {
              "data": {"values": [{}]},
              "mark": {"type": "rule", "color": "#999", "strokeWidth": 0.8},
              "encoding": {"x": {"datum": 0, "type": "quantitative"}, "x2": {"datum": 800}, "y": {"datum": 0, "type": "quantitative"}}
            },
            {
              "data": {"name": "ct"}, "transform": [{"filter": "datum.p == 1"}],
              "mark": {"type": "text", "fontWeight": "bold", "fontSize": 6.5, "color": "#222"},
              "encoding": {"x": {"field": "x", "type": "quantitative"}, "y": {"field": "y", "type": "quantitative"}, "text": {"field": "t"}}
            }
          ]
        },
        {
          "width": 139, "height": 130,
          "view": {"stroke": "#9a9a9a", "strokeWidth": 0.8},
          "layer": [
            {
              "data": {"name": "c"}, "transform": [{"filter": "datum.p == 2"}],
              "mark": {"type": "rect", "color": "#7f00ff", "stroke": "#3a1a5a", "strokeWidth": 0.5},
              "encoding": {
                "x": {"field": "lo", "type": "quantitative", "scale": {"domain": [-25, 810], "nice": false, "zero": false},
                      "axis": {"values": [0,50,100,150,200,250,300,350,400,450,500,550,600,650,700,750,800], "tickCount": 200, "labels": false, "domain": false, "tickSize": 2, "title": null}},
                "x2": {"field": "hi"},
                "y": {"field": "f", "type": "quantitative", "scale": {"domain": [-1.2, 51], "nice": false, "zero": false},
                      "axis": {"values": [0,10,20,30,40], "format": "d", "tickCount": 200, "labelOverlap": false, "domain": false, "labelFont": "Liberation Serif", "labelFontSize": 8.5, "tickSize": 3, "labelPadding": 2, "title": "Frequency, %", "titleFont": "Lato", "titleFontSize": 9, "titleFontWeight": "bold", "titlePadding": 4}},
                "y2": {"datum": 0}
              }
            },
            {
              "data": {"values": [{}]},
              "mark": {"type": "rule", "color": "#999", "strokeWidth": 0.8},
              "encoding": {"x": {"datum": 0, "type": "quantitative"}, "x2": {"datum": 800}, "y": {"datum": 0, "type": "quantitative"}}
            },
            {
              "data": {"name": "ct"}, "transform": [{"filter": "datum.p == 2"}],
              "mark": {"type": "text", "fontWeight": "bold", "fontSize": 6.5, "color": "#222"},
              "encoding": {"x": {"field": "x", "type": "quantitative"}, "y": {"field": "y", "type": "quantitative"}, "text": {"field": "t"}}
            }
          ]
        },
        {
          "width": 139, "height": 131,
          "view": {"stroke": "#9a9a9a", "strokeWidth": 0.8},
          "layer": [
            {
              "data": {"name": "c"}, "transform": [{"filter": "datum.p == 3"}],
              "mark": {"type": "rect", "color": "#7f00ff", "stroke": "#3a1a5a", "strokeWidth": 0.5},
              "encoding": {
                "x": {"field": "lo", "type": "quantitative", "scale": {"domain": [-25, 810], "nice": false, "zero": false},
                      "axis": {"values": [0,50,100,150,200,250,300,350,400,450,500,550,600,650,700,750,800], "format": "d", "tickCount": 200, "labelExpr": "datum.value % 200 == 0 ? datum.label : ''", "labelOverlap": false, "labelFont": "Liberation Serif", "labelFontSize": 8.5, "domain": false, "tickSize": 2, "labelPadding": 3, "title": "rDNA CN", "titleFont": "Lato", "titleFontSize": 10, "titleFontWeight": "normal", "titleColor": "#333", "titlePadding": 3}},
                "x2": {"field": "hi"},
                "y": {"field": "f", "type": "quantitative", "scale": {"domain": [-1.4, 51.4], "nice": false, "zero": false},
                      "axis": {"values": [0,10,20,30,40], "format": "d", "tickCount": 200, "labelOverlap": false, "domain": false, "labelFont": "Liberation Serif", "labelFontSize": 8.5, "tickSize": 3, "labelPadding": 2, "title": null}},
                "y2": {"datum": 0}
              }
            },
            {
              "data": {"values": [{}]},
              "mark": {"type": "rule", "color": "#999", "strokeWidth": 0.8},
              "encoding": {"x": {"datum": 0, "type": "quantitative"}, "x2": {"datum": 800}, "y": {"datum": 0, "type": "quantitative"}}
            },
            {
              "data": {"name": "ct"}, "transform": [{"filter": "datum.p == 3"}],
              "mark": {"type": "text", "fontWeight": "bold", "fontSize": 6.5, "color": "#222"},
              "encoding": {"x": {"field": "x", "type": "quantitative"}, "y": {"field": "y", "type": "quantitative"}, "text": {"field": "t"}}
            }
          ]
        }
      ],
      "spacing": 0,
      "bounds": "flush"
    },
    {
      "resolve": {"scale": {"color": "independent"}},
      "vconcat": [
        {
          "width": 111, "height": 16,
          "title": {"text": "D", "anchor": "start", "frame": "group", "fontSize": 14, "fontWeight": "bold", "font": "Liberation Sans", "color": "#111", "dx": -29, "offset": -2},
          "data": {"values": [{}]},
          "mark": {"type": "text"},
          "encoding": {"text": {"value": ""}}
        },
        {
          "width": 111, "height": 181,
          "layer": [
            {
              "data": {"name": "d"},
              "mark": {"type": "point", "filled": false, "size": 22, "strokeWidth": 1.1},
              "encoding": {
                "x": {"field": "a", "type": "quantitative", "scale": {"domain": [20, 91], "nice": false, "zero": false},
                      "axis": {"values": [20,40,60,80], "format": "d", "tickCount": 200, "labelOverlap": false, "labelFontSize": 4.5, "labelFontWeight": "bold", "tickSize": 2, "labelPadding": 1, "title": "Age", "titleFontSize": 6, "titleFontWeight": "bold", "titlePadding": 2}},
                "y": {"field": "r", "type": "quantitative", "scale": {"domain": [0, 600], "nice": false, "zero": false},
                      "axis": {"values": [0,100,200,300,400,500,600], "format": "d", "tickCount": 200, "labelOverlap": false, "labelFontSize": 4.5, "labelFontWeight": "bold", "tickSize": 2, "labelPadding": 2, "title": "Range\u00a0\u00a0for\u00a0\u00a0rDNA CN", "titleFontSize": 6.5, "titleFontWeight": "bold", "titlePadding": 4}},
                "color": {"field": "g", "type": "nominal", "scale": {"domain": ["NE", "E"], "range": ["#4dbf7a", "#8c6cd0"]},
                  "legend": {"orient": "none", "legendX": 49, "legendY": -28, "direction": "vertical",
                    "title": "Age\u00a0\u00a0\u00a0\u00a0\u00a0\u00a0\u00a0N", "titleAnchor": "end",
                    "titleFontSize": 6.5, "titleFontWeight": "bold", "titleColor": "#222", "titlePadding": 1,
                    "labelFontSize": 6.5, "labelFontWeight": "bold", "labelColor": "#222", "labelOffset": 2,
                    "labelExpr": "datum.label == 'NE' ? 'NE (17 - 71)\u00a0525' : 'E\u00a0\u00a0\u00a0(72 - 91)\u00a0126'",
                    "symbolSize": 9, "symbolStrokeWidth": 1, "rowPadding": 1, "padding": 3, "strokeColor": "#222", "cornerRadius": 5, "fillColor": "white"}}
              }
            },
            {
              "data": {"values": [{"a": 21.5, "r": 604, "t": "(1)"}]},
              "mark": {"type": "text", "fontSize": 14, "fontWeight": "bold", "align": "left", "baseline": "bottom", "color": "#111"},
              "encoding": {"x": {"field": "a", "type": "quantitative"}, "y": {"field": "r", "type": "quantitative"}, "text": {"field": "t"}}
            }
          ]
        },
        {
          "width": 111, "height": 28,
          "data": {"values": [{}]},
          "mark": {"type": "text"},
          "encoding": {"text": {"value": ""}}
        },
        {
          "width": 111, "height": 180,
          "layer": [
            {
              "data": {"name": "d"},
              "mark": {"type": "point", "filled": false, "size": 22, "strokeWidth": 1.1},
              "encoding": {
                "x": {"field": "a", "type": "quantitative", "scale": {"domain": [20, 91], "nice": false, "zero": false},
                      "axis": {"values": [20,40,60,80], "format": "d", "tickCount": 200, "labelOverlap": false, "labelFontSize": 4.5, "labelFontWeight": "bold", "tickSize": 2, "labelPadding": 1, "title": "Age", "titleFontSize": 6, "titleFontWeight": "bold", "titlePadding": 2}},
                "y": {"field": "c", "type": "quantitative", "scale": {"domain": [0, 0.3], "nice": false, "zero": false},
                      "axis": {"values": [0, 0.1, 0.2, 0.3], "tickCount": 200, "labelOverlap": false, "format": ".1~f", "labelFontSize": 4.5, "labelFontWeight": "bold", "tickSize": 2, "labelPadding": 2, "title": "Coefficient of Variation\u00a0\u00a0for\u00a0\u00a0rDNA CN", "titleFontSize": 7, "titleFontWeight": "bold", "titlePadding": 4}},
                "color": {"field": "g", "type": "nominal", "scale": {"domain": ["NE", "E"], "range": ["#4dbf7a", "#8c6cd0"]}, "legend": null}
              }
            },
            {
              "data": {"values": [{"a": 26, "c": 0.3, "t": "(2)"}]},
              "mark": {"type": "text", "fontSize": 14, "fontWeight": "bold", "align": "left", "baseline": "middle", "color": "#111", "dy": -5},
              "encoding": {"x": {"field": "a", "type": "quantitative"}, "y": {"field": "c", "type": "quantitative"}, "text": {"field": "t"}}
            }
          ]
        }
      ],
      "spacing": 0,
      "bounds": "flush"
    }
  ]
}
